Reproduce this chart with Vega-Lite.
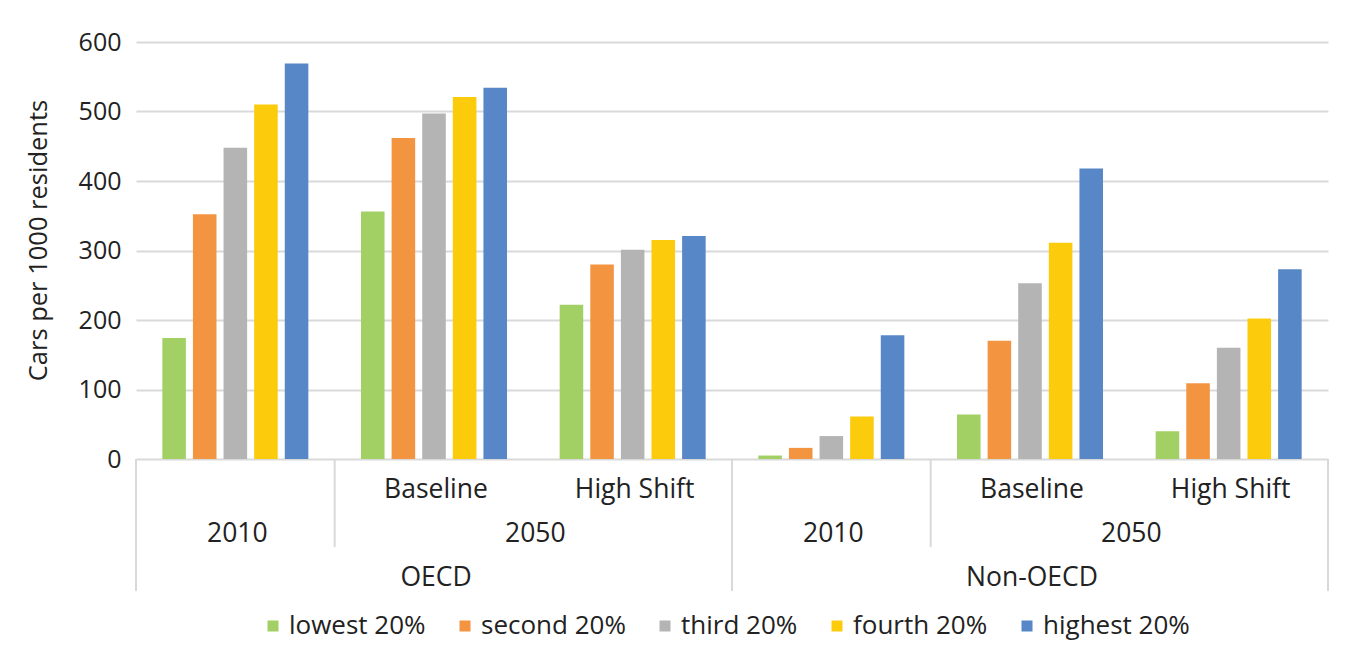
{
  "$schema": "https://vega.github.io/schema/vega-lite/v6.json",
  "padding": {"left": 26, "top": 30, "right": 10, "bottom": 5},
  "background": "white",
  "spacing": 0,
  "bounds": "flush",
  "datasets": {
    "bars": [
      {"grp": "OECD 2010", "quintile": "lowest 20%", "value": 174},
      {"grp": "OECD 2010", "quintile": "second 20%", "value": 352},
      {"grp": "OECD 2010", "quintile": "third 20%", "value": 448},
      {"grp": "OECD 2010", "quintile": "fourth 20%", "value": 510},
      {"grp": "OECD 2010", "quintile": "highest 20%", "value": 569},
      {"grp": "OECD 2050 Baseline", "quintile": "lowest 20%", "value": 356},
      {"grp": "OECD 2050 Baseline", "quintile": "second 20%", "value": 462},
      {"grp": "OECD 2050 Baseline", "quintile": "third 20%", "value": 497},
      {"grp": "OECD 2050 Baseline", "quintile": "fourth 20%", "value": 521},
      {"grp": "OECD 2050 Baseline", "quintile": "highest 20%", "value": 534},
      {"grp": "OECD 2050 High Shift", "quintile": "lowest 20%", "value": 222},
      {"grp": "OECD 2050 High Shift", "quintile": "second 20%", "value": 280},
      {"grp": "OECD 2050 High Shift", "quintile": "third 20%", "value": 301},
      {"grp": "OECD 2050 High Shift", "quintile": "fourth 20%", "value": 315},
      {"grp": "OECD 2050 High Shift", "quintile": "highest 20%", "value": 321},
      {"grp": "Non-OECD 2010", "quintile": "lowest 20%", "value": 5},
      {"grp": "Non-OECD 2010", "quintile": "second 20%", "value": 16},
      {"grp": "Non-OECD 2010", "quintile": "third 20%", "value": 33},
      {"grp": "Non-OECD 2010", "quintile": "fourth 20%", "value": 61},
      {"grp": "Non-OECD 2010", "quintile": "highest 20%", "value": 178},
      {"grp": "Non-OECD 2050 Baseline", "quintile": "lowest 20%", "value": 64},
      {"grp": "Non-OECD 2050 Baseline", "quintile": "second 20%", "value": 170},
      {"grp": "Non-OECD 2050 Baseline", "quintile": "third 20%", "value": 253},
      {"grp": "Non-OECD 2050 Baseline", "quintile": "fourth 20%", "value": 311},
      {"grp": "Non-OECD 2050 Baseline", "quintile": "highest 20%", "value": 418},
      {"grp": "Non-OECD 2050 High Shift", "quintile": "lowest 20%", "value": 40},
      {"grp": "Non-OECD 2050 High Shift", "quintile": "second 20%", "value": 109},
      {"grp": "Non-OECD 2050 High Shift", "quintile": "third 20%", "value": 160},
      {"grp": "Non-OECD 2050 High Shift", "quintile": "fourth 20%", "value": 202},
      {"grp": "Non-OECD 2050 High Shift", "quintile": "highest 20%", "value": 273}
    ],
    "separators": [
      {"grp": "OECD 2010", "side": "start", "depth": 3},
      {"grp": "OECD 2050 Baseline", "side": "start", "depth": 2},
      {"grp": "Non-OECD 2010", "side": "start", "depth": 3},
      {"grp": "Non-OECD 2050 Baseline", "side": "start", "depth": 2},
      {"grp": "Non-OECD 2050 High Shift", "side": "end", "depth": 3}
    ],
    "labels": [
      {"label": "Baseline", "grp": "OECD 2050 Baseline", "level": 1, "at": "center"},
      {"label": "High Shift", "grp": "OECD 2050 High Shift", "level": 1, "at": "center"},
      {"label": "Baseline", "grp": "Non-OECD 2050 Baseline", "level": 1, "at": "center"},
      {"label": "High Shift", "grp": "Non-OECD 2050 High Shift", "level": 1, "at": "center"},
      {"label": "2010", "grp": "OECD 2010", "level": 2, "at": "center"},
      {"label": "2050", "grp": "OECD 2050 High Shift", "level": 2, "at": "start"},
      {"label": "2010", "grp": "Non-OECD 2010", "level": 2, "at": "center"},
      {"label": "2050", "grp": "Non-OECD 2050 High Shift", "level": 2, "at": "start"},
      {"label": "OECD", "grp": "OECD 2050 Baseline", "level": 3, "at": "center"},
      {"label": "Non-OECD", "grp": "Non-OECD 2050 Baseline", "level": 3, "at": "center"}
    ]
  },
  "vconcat": [
    {
      "width": 1192,
      "height": 417,
      "data": {"name": "bars"},
      "mark": {"type": "bar"},
      "encoding": {
        "x": {
          "field": "grp", "type": "nominal",
          "scale": {"domain": ["OECD 2010", "OECD 2050 Baseline", "OECD 2050 High Shift", "Non-OECD 2010", "Non-OECD 2050 Baseline", "Non-OECD 2050 High Shift"], "paddingInner": 0, "paddingOuter": 0},
          "axis": null
        },
        "xOffset": {
          "field": "quintile", "type": "nominal",
          "scale": {"domain": ["lowest 20%", "second 20%", "third 20%", "fourth 20%", "highest 20%"], "paddingInner": 0.23, "paddingOuter": 0.86}
        },
        "y": {
          "field": "value", "type": "quantitative",
          "scale": {"domain": [0, 600], "nice": false},
          "axis": {
            "values": [0, 100, 200, 300, 400, 500, 600],
            "title": "Cars per 1000 residents",
            "grid": true, "gridColor": "#d9d9d9", "gridWidth": 2,
            "domain": false, "ticks": false,
            "labelFontSize": 25, "labelPadding": 15, "labelColor": "#222",
            "titleFontSize": 25.5, "titleFontWeight": "normal", "titleColor": "#222", "titlePadding": 27, "titleY": 198
          }
        },
        "color": {
          "field": "quintile", "type": "nominal",
          "scale": {"domain": ["lowest 20%", "second 20%", "third 20%", "fourth 20%", "highest 20%"], "range": ["#A3D065", "#F39441", "#B4B4B4", "#FCCB0C", "#5787C7"]},
          "legend": {"title": null, "orient": "none", "direction": "horizontal", "legendX": 124, "legendY": 571}
        }
      }
    },
    {
      "width": 1192,
      "height": 132,
      "layer": [
        {
          "data": {"name": "separators"},
          "transform": [{"filter": "datum.side == 'start'"}],
          "mark": {"type": "rule", "color": "#d9d9d9", "strokeWidth": 2},
          "encoding": {
            "x": {"field": "grp", "type": "nominal", "bandPosition": 0,
              "scale": {"domain": ["OECD 2010", "OECD 2050 Baseline", "OECD 2050 High Shift", "Non-OECD 2010", "Non-OECD 2050 Baseline", "Non-OECD 2050 High Shift"], "paddingInner": 0, "paddingOuter": 0},
              "axis": null},
            "y": {"field": "depth", "type": "quantitative",
              "scale": {"domain": [0, 3], "reverse": true, "nice": false, "zero": false}, "axis": null},
            "y2": {"datum": 0}
          }
        },
        {
          "data": {"name": "separators"},
          "transform": [{"filter": "datum.side == 'end'"}],
          "mark": {"type": "rule", "color": "#d9d9d9", "strokeWidth": 2},
          "encoding": {
            "x": {"field": "grp", "type": "nominal", "bandPosition": 1},
            "y": {"field": "depth", "type": "quantitative"},
            "y2": {"datum": 0}
          }
        },
        {
          "data": {"name": "labels"},
          "transform": [{"filter": "datum.at == 'center'"}],
          "mark": {"type": "text", "fontSize": 26.5, "color": "#222", "baseline": "alphabetic", "dy": -5, "dx": 2},
          "encoding": {
            "x": {"field": "grp", "type": "nominal", "bandPosition": 0.5},
            "y": {"field": "level", "type": "quantitative"},
            "text": {"field": "label"}
          }
        },
        {
          "data": {"name": "labels"},
          "transform": [{"filter": "datum.at == 'start'"}],
          "mark": {"type": "text", "fontSize": 26.5, "color": "#222", "baseline": "alphabetic", "dy": -5, "dx": 2},
          "encoding": {
            "x": {"field": "grp", "type": "nominal", "bandPosition": 0},
            "y": {"field": "level", "type": "quantitative"},
            "text": {"field": "label"}
          }
        }
      ],
      "resolve": {"scale": {"x": "shared", "y": "shared"}}
    }
  ],
  "resolve": {"scale": {"x": "independent", "y": "independent"}},
  "config": {
    "font": "Open Sans",
    "view": {"stroke": null},
    "legend": {
      "symbolType": "square", "symbolSize": 121, "symbolStrokeWidth": 0,
      "labelFontSize": 26, "labelColor": "#222", "labelOffset": 3,
      "columnPadding": 26
    }
  }
}
